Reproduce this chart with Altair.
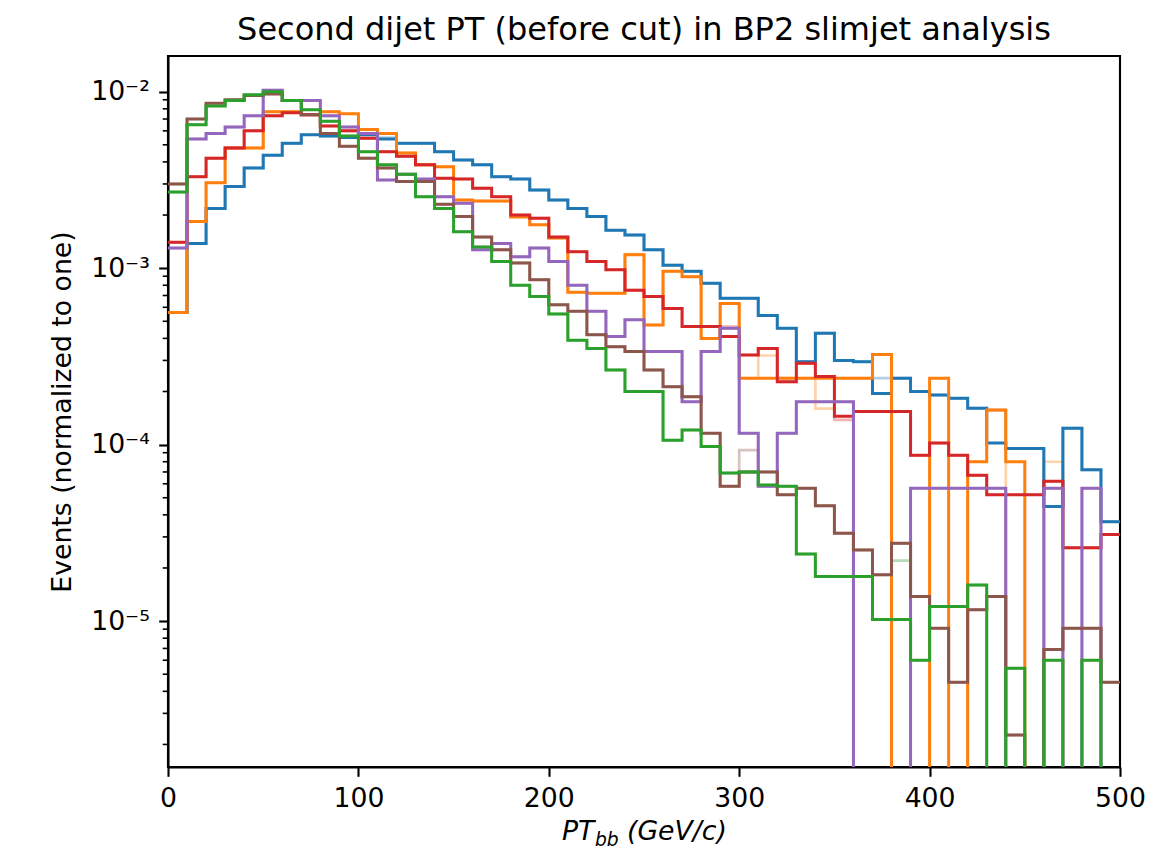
import altair as alt
import pandas as pd

# ---------------- data ----------------
bin_edges = list(range(0, 510, 10))  # 0 .. 500 GeV/c, 50 bins of 10

blue = [5.6e-4, 1.38e-3, 2.18e-3, 2.9e-3, 3.7e-3, 4.37e-3, 5.1e-3, 5.7e-3, 5.6e-3, 5.5e-3,
        5.7e-3, 5.4e-3, 5.1e-3, 5.1e-3, 4.57e-3, 4.1e-3, 3.85e-3, 3.3e-3, 3.2e-3, 2.77e-3,
        2.43e-3, 2.18e-3, 1.96e-3, 1.64e-3, 1.54e-3, 1.27e-3, 1.04e-3, 9.6e-4, 8.2e-4, 6.75e-4,
        6.75e-4, 5.4e-4, 4.56e-4, 2.95e-4, 4.28e-4, 3.0e-4, 2.95e-4, 1.95e-4, 2.38e-4, 2.0e-4,
        1.91e-4, 1.83e-4, 1.61e-4, 1.02e-4, 9.5e-5, 9.5e-5, 4.46e-5, 1.24e-4, 7.2e-5, 3.66e-5]
orange = [5.6e-4, 1.84e-3, 3.05e-3, 4.8e-3, 4.8e-3, 7.7e-3, 7.7e-3, 7.4e-3, 7.7e-3, 7.5e-3,
          6.1e-3, 5.8e-3, 4.5e-3, 3.85e-3, 3.75e-3, 2.43e-3, 2.4e-3, 2.4e-3, 1.95e-3, 1.76e-3,
          1.48e-3, 7.3e-4, 7.2e-4, 7.2e-4, 1.19e-3, 4.77e-4, 9.6e-4, 8.95e-4, 4.0e-4, 6.3e-4,
          2.38e-4, 2.38e-4, 2.38e-4, 2.38e-4, 2.38e-4, 2.38e-4, 2.38e-4, 3.24e-4, 0, 0,
          2.38e-4, 0, 8.0e-5, 1.57e-4, 8.0e-5, 0, 0, 0, 0, 0]
green = [2.7e-3, 6.5e-3, 8.3e-3, 8.9e-3, 9.6e-3, 1.0e-2, 8.9e-3, 7.9e-3, 6.8e-3, 5.6e-3,
         4.57e-3, 3.85e-3, 3.4e-3, 2.54e-3, 2.18e-3, 1.61e-3, 1.32e-3, 1.09e-3, 8.0e-4, 6.9e-4,
         5.5e-4, 3.9e-4, 3.5e-4, 2.65e-4, 2.0e-4, 2.0e-4, 1.06e-4, 1.21e-4, 9.75e-5, 6.9e-5,
         7.0e-5, 5.9e-5, 5.8e-5, 2.4e-5, 1.79e-5, 1.79e-5, 1.79e-5, 1.02e-5, 1.02e-5, 6.0e-6,
         1.21e-5, 1.21e-5, 1.6e-5, 0, 5.4e-6, 0, 6.0e-6, 0, 6.0e-6, 0]
red = [1.4e-3, 3.3e-3, 4.2e-3, 4.8e-3, 6.0e-3, 7.3e-3, 7.6e-3, 7.4e-3, 6.4e-3, 6.0e-3,
       5.45e-3, 4.57e-3, 4.3e-3, 3.85e-3, 3.23e-3, 3.2e-3, 2.84e-3, 2.54e-3, 2.0e-3, 1.92e-3,
       1.5e-3, 1.24e-3, 1.09e-3, 9.8e-4, 7.5e-4, 6.9e-4, 5.9e-4, 4.67e-4, 4.67e-4, 4.1e-4,
       3.22e-4, 3.5e-4, 2.27e-4, 2.89e-4, 2.43e-4, 1.45e-4, 1.54e-4, 1.54e-4, 1.54e-4, 8.7e-5,
       1.02e-4, 8.7e-5, 6.7e-5, 5.2e-5, 5.2e-5, 5.2e-5, 6.2e-5, 2.6e-5, 2.6e-5, 3.1e-5]
purple = [1.3e-3, 5.4e-3, 5.8e-3, 6.3e-3, 7.3e-3, 1.02e-2, 8.9e-3, 8.9e-3, 7.3e-3, 6.3e-3,
          5.8e-3, 3.16e-3, 3.4e-3, 3.2e-3, 2.54e-3, 2.33e-3, 1.27e-3, 1.38e-3, 1.16e-3, 1.3e-3,
          1.09e-3, 8.0e-4, 5.7e-4, 4.1e-4, 5.1e-4, 3.37e-4, 3.37e-4, 1.75e-4, 3.37e-4, 4.56e-4,
          1.16e-4, 5.8e-5, 1.16e-4, 1.75e-4, 1.75e-4, 1.75e-4, 0, 0, 0, 5.66e-5,
          5.66e-5, 5.66e-5, 5.66e-5, 5.66e-5, 0, 0, 5.66e-5, 0, 5.66e-5, 0]
brown = [3.0e-3, 7.0e-3, 8.6e-3, 9.0e-3, 9.5e-3, 9.7e-3, 8.9e-3, 7.4e-3, 5.8e-3, 4.9e-3,
         4.2e-3, 3.7e-3, 3.1e-3, 3.1e-3, 2.3e-3, 1.96e-3, 1.5e-3, 1.27e-3, 1.07e-3, 8.6e-4,
         6.2e-4, 5.7e-4, 4.2e-4, 3.59e-4, 3.37e-4, 2.65e-4, 2.13e-4, 1.87e-4, 1.16e-4, 5.8e-5,
         7.0e-5, 7.0e-5, 5.2e-5, 5.66e-5, 4.5e-5, 3.15e-5, 2.53e-5, 1.83e-5, 2.76e-5, 1.38e-5,
         9.1e-6, 4.5e-6, 1.16e-5, 1.38e-5, 2.26e-6, 0, 6.9e-6, 9.1e-6, 9.1e-6, 4.5e-6]

# faint (transparent) companions of each sample
blue_f = [5.6e-4, 1.38e-3, 2.18e-3, 2.9e-3, 3.7e-3, 4.37e-3, 5.1e-3, 5.7e-3, 5.6e-3, 5.5e-3,
          5.7e-3, 5.5e-3, 5.1e-3, 5.1e-3, 4.57e-3, 4.1e-3, 3.85e-3, 3.3e-3, 3.2e-3, 2.77e-3,
          2.43e-3, 2.18e-3, 1.96e-3, 1.64e-3, 1.54e-3, 1.27e-3, 1.04e-3, 9.6e-4, 8.2e-4, 6.75e-4,
          6.75e-4, 5.4e-4, 4.56e-4, 2.95e-4, 4.28e-4, 3.0e-4, 2.95e-4, 2.38e-4, 2.38e-4, 2.0e-4,
          1.91e-4, 1.83e-4, 1.61e-4, 1.57e-4, 9.5e-5, 9.5e-5, 4.46e-5, 1.24e-4, 7.2e-5, 3.66e-5]
orange_f = [5.6e-4, 1.84e-3, 3.05e-3, 4.8e-3, 4.8e-3, 7.7e-3, 7.7e-3, 7.4e-3, 7.7e-3, 7.5e-3,
            6.1e-3, 5.8e-3, 4.5e-3, 3.85e-3, 3.75e-3, 2.43e-3, 2.4e-3, 2.4e-3, 1.95e-3, 1.76e-3,
            1.48e-3, 7.3e-4, 7.2e-4, 7.2e-4, 1.2e-3, 4.77e-4, 9.6e-4, 8.95e-4, 4.0e-4, 6.3e-4,
            2.38e-4, 3.2e-4, 2.38e-4, 2.38e-4, 1.6e-4, 2.38e-4, 2.38e-4, 3.24e-4, 0, 0,
            0, 0, 8.0e-5, 1.57e-4, 0, 0, 8.0e-5, 0, 0, 0]
green_f = [2.7e-3, 6.5e-3, 8.3e-3, 8.9e-3, 9.6e-3, 1.0e-2, 8.9e-3, 7.9e-3, 6.8e-3, 5.6e-3,
           4.57e-3, 3.85e-3, 3.4e-3, 2.54e-3, 2.18e-3, 1.61e-3, 1.32e-3, 1.09e-3, 8.0e-4, 6.9e-4,
           5.5e-4, 3.9e-4, 3.5e-4, 2.65e-4, 2.0e-4, 2.0e-4, 1.06e-4, 1.21e-4, 9.75e-5, 6.9e-5,
           7.0e-5, 5.9e-5, 5.8e-5, 2.4e-5, 1.79e-5, 1.79e-5, 1.79e-5, 1.02e-5, 2.2e-5, 6.0e-6,
           1.21e-5, 1.21e-5, 1.6e-5, 0, 5.4e-6, 0, 6.0e-6, 0, 6.0e-6, 0]
red_f = [1.4e-3, 3.3e-3, 4.2e-3, 4.8e-3, 6.0e-3, 7.3e-3, 7.6e-3, 7.4e-3, 6.4e-3, 6.0e-3,
         5.45e-3, 4.57e-3, 4.3e-3, 3.85e-3, 3.23e-3, 3.2e-3, 2.84e-3, 2.54e-3, 2.0e-3, 1.92e-3,
         1.5e-3, 1.24e-3, 1.09e-3, 9.8e-4, 7.5e-4, 6.9e-4, 5.9e-4, 4.67e-4, 4.67e-4, 4.67e-4,
         3.22e-4, 3.5e-4, 2.27e-4, 2.89e-4, 2.43e-4, 1.38e-4, 1.54e-4, 1.54e-4, 1.54e-4, 8.7e-5,
         1.02e-4, 8.7e-5, 6.7e-5, 5.2e-5, 5.2e-5, 5.2e-5, 6.2e-5, 2.6e-5, 2.6e-5, 3.1e-5]
purple_f = [1.3e-3, 5.4e-3, 5.8e-3, 6.3e-3, 7.3e-3, 1.02e-2, 8.9e-3, 8.9e-3, 7.3e-3, 6.3e-3,
            5.8e-3, 3.16e-3, 3.4e-3, 3.16e-3, 2.54e-3, 2.33e-3, 1.27e-3, 1.38e-3, 1.16e-3, 1.3e-3,
            1.09e-3, 8.0e-4, 5.7e-4, 4.1e-4, 5.1e-4, 3.37e-4, 3.37e-4, 1.75e-4, 3.37e-4, 4.56e-4,
            1.16e-4, 5.8e-5, 1.16e-4, 1.75e-4, 1.75e-4, 1.75e-4, 0, 0, 0, 5.66e-5,
            5.66e-5, 5.66e-5, 5.66e-5, 5.66e-5, 0, 0, 5.66e-5, 0, 5.66e-5, 0]
brown_f = [3.0e-3, 7.0e-3, 8.6e-3, 9.0e-3, 9.5e-3, 9.7e-3, 8.9e-3, 7.4e-3, 5.8e-3, 4.9e-3,
           4.2e-3, 3.7e-3, 3.1e-3, 3.1e-3, 2.3e-3, 1.96e-3, 1.5e-3, 1.27e-3, 1.07e-3, 8.6e-4,
           6.2e-4, 5.7e-4, 4.2e-4, 3.59e-4, 3.37e-4, 2.65e-4, 2.13e-4, 1.87e-4, 1.16e-4, 5.8e-5,
           9.3e-5, 7.0e-5, 5.2e-5, 5.66e-5, 4.5e-5, 3.15e-5, 2.53e-5, 1.83e-5, 2.76e-5, 1.38e-5,
           9.1e-6, 4.5e-6, 1.16e-5, 1.38e-5, 2.26e-6, 0, 6.9e-6, 9.1e-6, 9.1e-6, 4.5e-6]

y_tick_values = [1e-5, 1e-4, 1e-3, 1e-2]
x_tick_values = [0, 100, 200, 300, 400, 500]
minor_ticks = [2e-6, 3e-6, 4e-6, 5e-6, 6e-6, 7e-6, 8e-6, 9e-6,
               2e-5, 3e-5, 4e-5, 5e-5, 6e-5, 7e-5, 8e-5, 9e-5,
               2e-4, 3e-4, 4e-4, 5e-4, 6e-4, 7e-4, 8e-4, 9e-4,
               2e-3, 3e-3, 4e-3, 5e-3, 6e-3, 7e-3, 8e-3, 9e-3]

title_text = "Second dijet PT (before cut) in BP2 slimjet analysis"

# ---------------- chart ----------------
FONT = "DejaVu Sans"
Y_DOMAIN = [1.49e-6, 0.01593]
EMPTY = 1e-9  # empty bins fall below the axis (log scale), like matplotlib

yscale = alt.Scale(type="log", domain=Y_DOMAIN, nice=False)
xscale = alt.Scale(domain=[0, 500], nice=False, zero=False)

yaxis = alt.Axis(
    values=y_tick_values,
    labelExpr="datum.value >= 0.005 ? '10\u207b\u00b2' : datum.value >= 0.0005 ? '10\u207b\u00b3' : datum.value >= 0.00005 ? '10\u207b\u2074' : '10\u207b\u2075'",
    title="Events (normalized to one)",
    titleX=-106, titleY=355.5, titleAngle=270, titleAlign="center", titleBaseline="middle",
    grid=False, labelOverlap=False,
    domainColor="black", domainWidth=2.1,
    tickColor="black", tickWidth=2.1, tickSize=9.3,
    labelPadding=9.3, labelFont=FONT, labelFontSize=26.7, labelColor="black",
    titleFont=FONT, titleFontSize=26.7, titleColor="black", titleFontWeight="normal",
)
xaxis = alt.Axis(
    values=x_tick_values, format="d", title=None, grid=False, labelFlush=False, labelOverlap=False,
    domainColor="black", domainWidth=2.1,
    tickColor="black", tickWidth=2.1, tickSize=9.3,
    labelPadding=9.3, labelFont=FONT, labelFontSize=26.7, labelColor="black",
)


def step_layer(vals, color, faint):
    ys = [v if v > 0 else EMPTY for v in vals]
    ys = ys + [ys[-1]]
    df = pd.DataFrame({"x": bin_edges, "y": ys})
    return alt.Chart(df).mark_line(
        interpolate="step-after",
        color=color,
        opacity=0.35 if faint else 1.0,
        strokeWidth=2.7 if faint else 3.0,
        clip=True,
        strokeJoin="miter",
        strokeCap="butt",
    ).encode(
        x=alt.X("x:Q", scale=xscale, axis=xaxis),
        y=alt.Y("y:Q", scale=yscale, axis=yaxis),
    )


series = [
    (blue, blue_f, "#1f77b4"),
    (orange, orange_f, "#ff7f0e"),
    (red, red_f, "#d62728"),
    (purple, purple_f, "#9467bd"),
    (brown, brown_f, "#8c564b"),
    (green, green_f, "#2ca02c"),
]

layers = []
for dark, faint, col in series:
    layers.append(step_layer(faint, col, True))
for dark, faint, col in series:
    layers.append(step_layer(dark, col, False))

# minor log ticks on the y axis
minor = alt.Chart(pd.DataFrame({"y": minor_ticks})).mark_rule(
    color="black", strokeWidth=1.6
).encode(
    y=alt.Y("y:Q", scale=yscale, axis=yaxis),
    x=alt.value(-5.3),
    x2=alt.value(0),
)
layers.append(minor)

txt_style = dict(font=FONT, color="black", baseline="alphabetic")

# title
title_mark = alt.Chart(pd.DataFrame({"t": [title_text]})).mark_text(
    fontSize=32, align="center", **txt_style).encode(
    x=alt.value(476), y=alt.value(-16), text="t:N")
layers.append(title_mark)

# x-axis title with subscript: PT_bb (GeV/c)
t1 = alt.Chart(pd.DataFrame({"t": ["PT"]})).mark_text(
    fontSize=26.7, fontStyle="italic", align="left", **txt_style).encode(
    x=alt.value(394), y=alt.value(784), text="t:N")
t2 = alt.Chart(pd.DataFrame({"t": ["bb"]})).mark_text(
    fontSize=18.7, fontStyle="italic", align="left", **txt_style).encode(
    x=alt.value(427), y=alt.value(790), text="t:N")
t3 = alt.Chart(pd.DataFrame({"t": ["(GeV/c)"]})).mark_text(
    fontSize=26.7, fontStyle="italic", align="left", **txt_style).encode(
    x=alt.value(459), y=alt.value(784), text="t:N")
layers += [t1, t2, t3]

chart = alt.layer(*layers).properties(
    width=952,
    height=711,
    background="white",
    autosize=alt.AutoSizeParams(type="none"),
    padding={"left": 168, "top": 56, "right": 34, "bottom": 86},
).configure_view(
    stroke="black", strokeWidth=2.1
)

chart.save("out.html", embed_options={"renderer": "svg", "actions": False})
